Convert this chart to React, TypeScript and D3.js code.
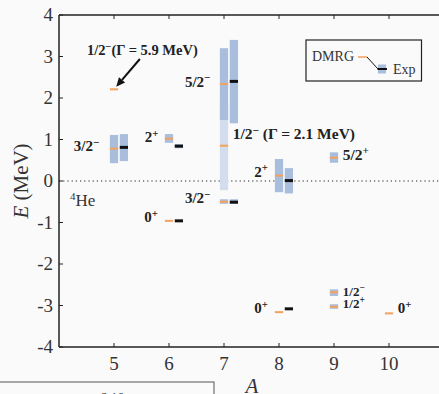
import React from "react";
import * as d3 from "d3";

const W = 439, H = 394;

const xTicks = [5, 6, 7, 8, 9, 10];
const yTicks = [-4, -3, -2, -1, 0, 1, 2, 3, 4];

// DMRG levels
const dmrgA = [5, 5, 6, 6, 7, 7, 7, 8, 8, 9, 9, 9, 10];
const dmrgE = [2.21, 0.78, 1.02, -0.96, 2.34, 0.85, -0.5, 0.13, -3.16, 0.56, -2.68, -3.03, -3.19];

// Experimental levels (drawn at shifted column)
const expA = [5, 6, 6, 7, 7, 8, 8];
const expE = [0.81, 0.84, -0.96, 2.4, -0.51, 0.01, -3.08];

// Experimental width bands: column (0 = DMRG column, 1 = Exp column), lo, hi, shade (0 dark, 1 light)
const bandA = [5, 5, 6, 6, 7, 7, 7, 7, 7, 8, 8, 9, 9, 9];
const bandCol = [0, 1, 0, 1, 0, 0, 1, 0, 1, 0, 1, 0, 0, 0];
const bandLo = [0.43, 0.48, 0.92, 0.79, -0.22, 1.47, 1.39, -0.55, -0.55, -0.27, -0.3, 0.44, -2.77, -3.08];
const bandHi = [1.11, 1.13, 1.13, 0.89, 1.9, 3.2, 3.4, -0.44, -0.44, 0.53, 0.31, 0.69, -2.61, -2.97];
const bandShade = [0, 0, 0, 0, 1, 0, 0, 0, 0, 0, 0, 0, 0, 0];

// Level labels: base, superscript, suffix, anchor A, anchor E, size
const labBase = ["1/2", "3/2", "2", "0", "5/2", "1/2", "3/2", "2", "5/2", "0", "1/2", "1/2", "0"];
const labSup = ["−", "−", "+", "+", "−", "−", "−", "+", "+", "+", "−", "+", "+"];
const labSuffix = ["(Γ = 5.9 MeV)", "", "", "", "", " (Γ = 2.1 MeV)", "", "", "", "", "", "", ""];
const labA = [4.51, 4.27, 5.56, 5.55, 6.29, 7.16, 6.29, 7.55, 9.16, 7.55, 9.16, 9.16, 10.16];
const labE = [3.04, 0.72, 0.94, -0.99, 2.27, 1.01, -0.53, 0.1, 0.51, -3.18, -2.77, -3.05, -3.18];
const labSize = [14.5, 15, 15, 15, 15, 15.5, 15, 15, 15.5, 15, 13, 13, 15];

const arrowFrom = [5.47, 2.94];
const arrowTo = [5.04, 2.27];

const ORANGE = "#f4a15c";
const BLUE = "#a8bedc";
const LIGHTBLUE = "#d3dded";
const BLACK = "#111";

export default function App() {
  const x = d3.scaleLinear().domain([4, 11]).range([59, 444]);
  const y = d3.scaleLinear().domain([-4, 4]).range([347, 15]);
  const colOff = 0.18;
  const half = 0.075;
  const serif = "'Liberation Serif', 'DejaVu Serif', serif";

  const bands = bandA.map((a, i) => ({ a, col: bandCol[i], lo: bandLo[i], hi: bandHi[i], shade: bandShade[i] }));
  const orderedBands = [...bands].sort((p, q) => q.shade - p.shade);

  const ax0 = x(arrowFrom[0]), ay0 = y(arrowFrom[1]);
  const ax1 = x(arrowTo[0]), ay1 = y(arrowTo[1]);
  const ang = Math.atan2(ay1 - ay0, ax1 - ax0);
  const hl = 9, hw = 4;
  const bx = ax1 - hl * Math.cos(ang), by = ay1 - hl * Math.sin(ang);
  const head = [
    [ax1, ay1],
    [bx + hw * Math.sin(ang), by - hw * Math.cos(ang)],
    [bx - hw * Math.sin(ang), by + hw * Math.cos(ang)],
  ];

  return (
    <svg width={W} height={H} style={{ position: "fixed", left: 0, top: 0 }} fontFamily={serif}>
      <rect x={0} y={0} width={W} height={H} fill="#fafafa" />
      {/* zero line */}
      <line x1={x(4)} x2={W} y1={y(0)} y2={y(0)} stroke="#222" strokeWidth={1.2} strokeDasharray="1.2,3" />
      {/* bands */}
      {orderedBands.map((b, i) => {
        const cx = x(b.a + b.col * colOff);
        return (
          <rect key={"b" + i} x={cx - (x(half) - x(0))} width={2 * (x(half) - x(0))} y={y(b.hi)} height={y(b.lo) - y(b.hi)}
            fill={b.shade ? LIGHTBLUE : BLUE} />
        );
      })}
      {/* DMRG */}
      {dmrgA.map((a, i) => (
        <line key={"d" + i} x1={x(a - half)} x2={x(a + half)} y1={y(dmrgE[i])} y2={y(dmrgE[i])} stroke={ORANGE} strokeWidth={2} />
      ))}
      {/* Exp */}
      {expA.map((a, i) => (
        <line key={"e" + i} x1={x(a + colOff - half)} x2={x(a + colOff + half)} y1={y(expE[i])} y2={y(expE[i])} stroke={BLACK} strokeWidth={3} />
      ))}
      {/* labels */}
      {labBase.map((t, i) => (
        <text key={"l" + i} x={x(labA[i])} y={y(labE[i])} fontSize={labSize[i]} fontWeight="bold" fill="#222">
          <tspan>{t}</tspan>
          <tspan dy={-labSize[i] * 0.36} fontSize={labSize[i] * 0.72}>{labSup[i]}</tspan>
          {labSuffix[i] ? <tspan dy={labSize[i] * 0.36}>{labSuffix[i]}</tspan> : null}
        </text>
      ))}
      {/* arrow */}
      <line x1={ax0} y1={ay0} x2={bx} y2={by} stroke={BLACK} strokeWidth={2} />
      <polygon points={head.map((p) => p.join(",")).join(" ")} fill={BLACK} />
      {/* 4He */}
      <text x={70} y={206} fontSize={17} fill="#333">
        <tspan dy={-6} fontSize={11}>4</tspan>
        <tspan dy={6}>He</tspan>
      </text>
      {/* legend */}
      <rect x={306} y={40} width={115.5} height={41} fill="#fafafa" stroke="#222" strokeWidth={1.2} />
      <text x={312} y={61} fontSize={14} fill="#333">DMRG</text>
      <line x1={358} x2={367} y1={57} y2={57} stroke={ORANGE} strokeWidth={1.5} />
      <line x1={367} y1={57} x2={378} y2={69} stroke={BLACK} strokeWidth={1} />
      <rect x={378} y={64.5} width={8} height={9} fill={BLUE} />
      <line x1={377.5} x2={387} y1={69} y2={69} stroke={BLACK} strokeWidth={2} />
      <text x={393} y={74} fontSize={14} fill="#333">Exp</text>
      {/* axes */}
      <line x1={x(4)} x2={x(4)} y1={y(4)} y2={y(-4)} stroke="#222" strokeWidth={1.5} />
      <line x1={x(4)} x2={W} y1={y(-4)} y2={y(-4)} stroke="#222" strokeWidth={1.5} />
      <line x1={x(4)} x2={W} y1={y(4)} y2={y(4)} stroke="#222" strokeWidth={1.5} />
      {xTicks.map((t) => (
        <g key={"xt" + t}>
          <line x1={x(t)} x2={x(t)} y1={y(-4)} y2={y(-4) - 4} stroke="#222" strokeWidth={1} />
          <line x1={x(t)} x2={x(t)} y1={y(4)} y2={y(4) + 4} stroke="#222" strokeWidth={1} />
          <text x={x(t)} y={y(-4) + 23} fontSize={19} textAnchor="middle" fill="#333">{t}</text>
        </g>
      ))}
      {yTicks.map((t) => (
        <g key={"yt" + t}>
          <line x1={x(4)} x2={x(4) + 4} y1={y(t)} y2={y(t)} stroke="#222" strokeWidth={1} />
          <text x={x(4) - 6} y={y(t) + 6} fontSize={19} textAnchor="end" fill="#333">{t < 0 ? "-" + Math.abs(t) : t}</text>
        </g>
      ))}
      {/* axis titles */}
      <text transform={`translate(28,${y(0)}) rotate(-90)`} textAnchor="middle" fontSize={21} fill="#333">
        <tspan fontStyle="italic">E</tspan>
        <tspan> (MeV)</tspan>
      </text>
      <text x={252} y={393} fontSize={21} fontStyle="italic" textAnchor="middle" fill="#333">A</text>
      {/* partial box below */}
      <rect x={-2} y={382} width={216} height={20} fill="#fafafa" stroke="#555" strokeWidth={1} />
      <text x={100} y={403} fontSize={14} fill="#333">6  10</text>
    </svg>
  );
}
